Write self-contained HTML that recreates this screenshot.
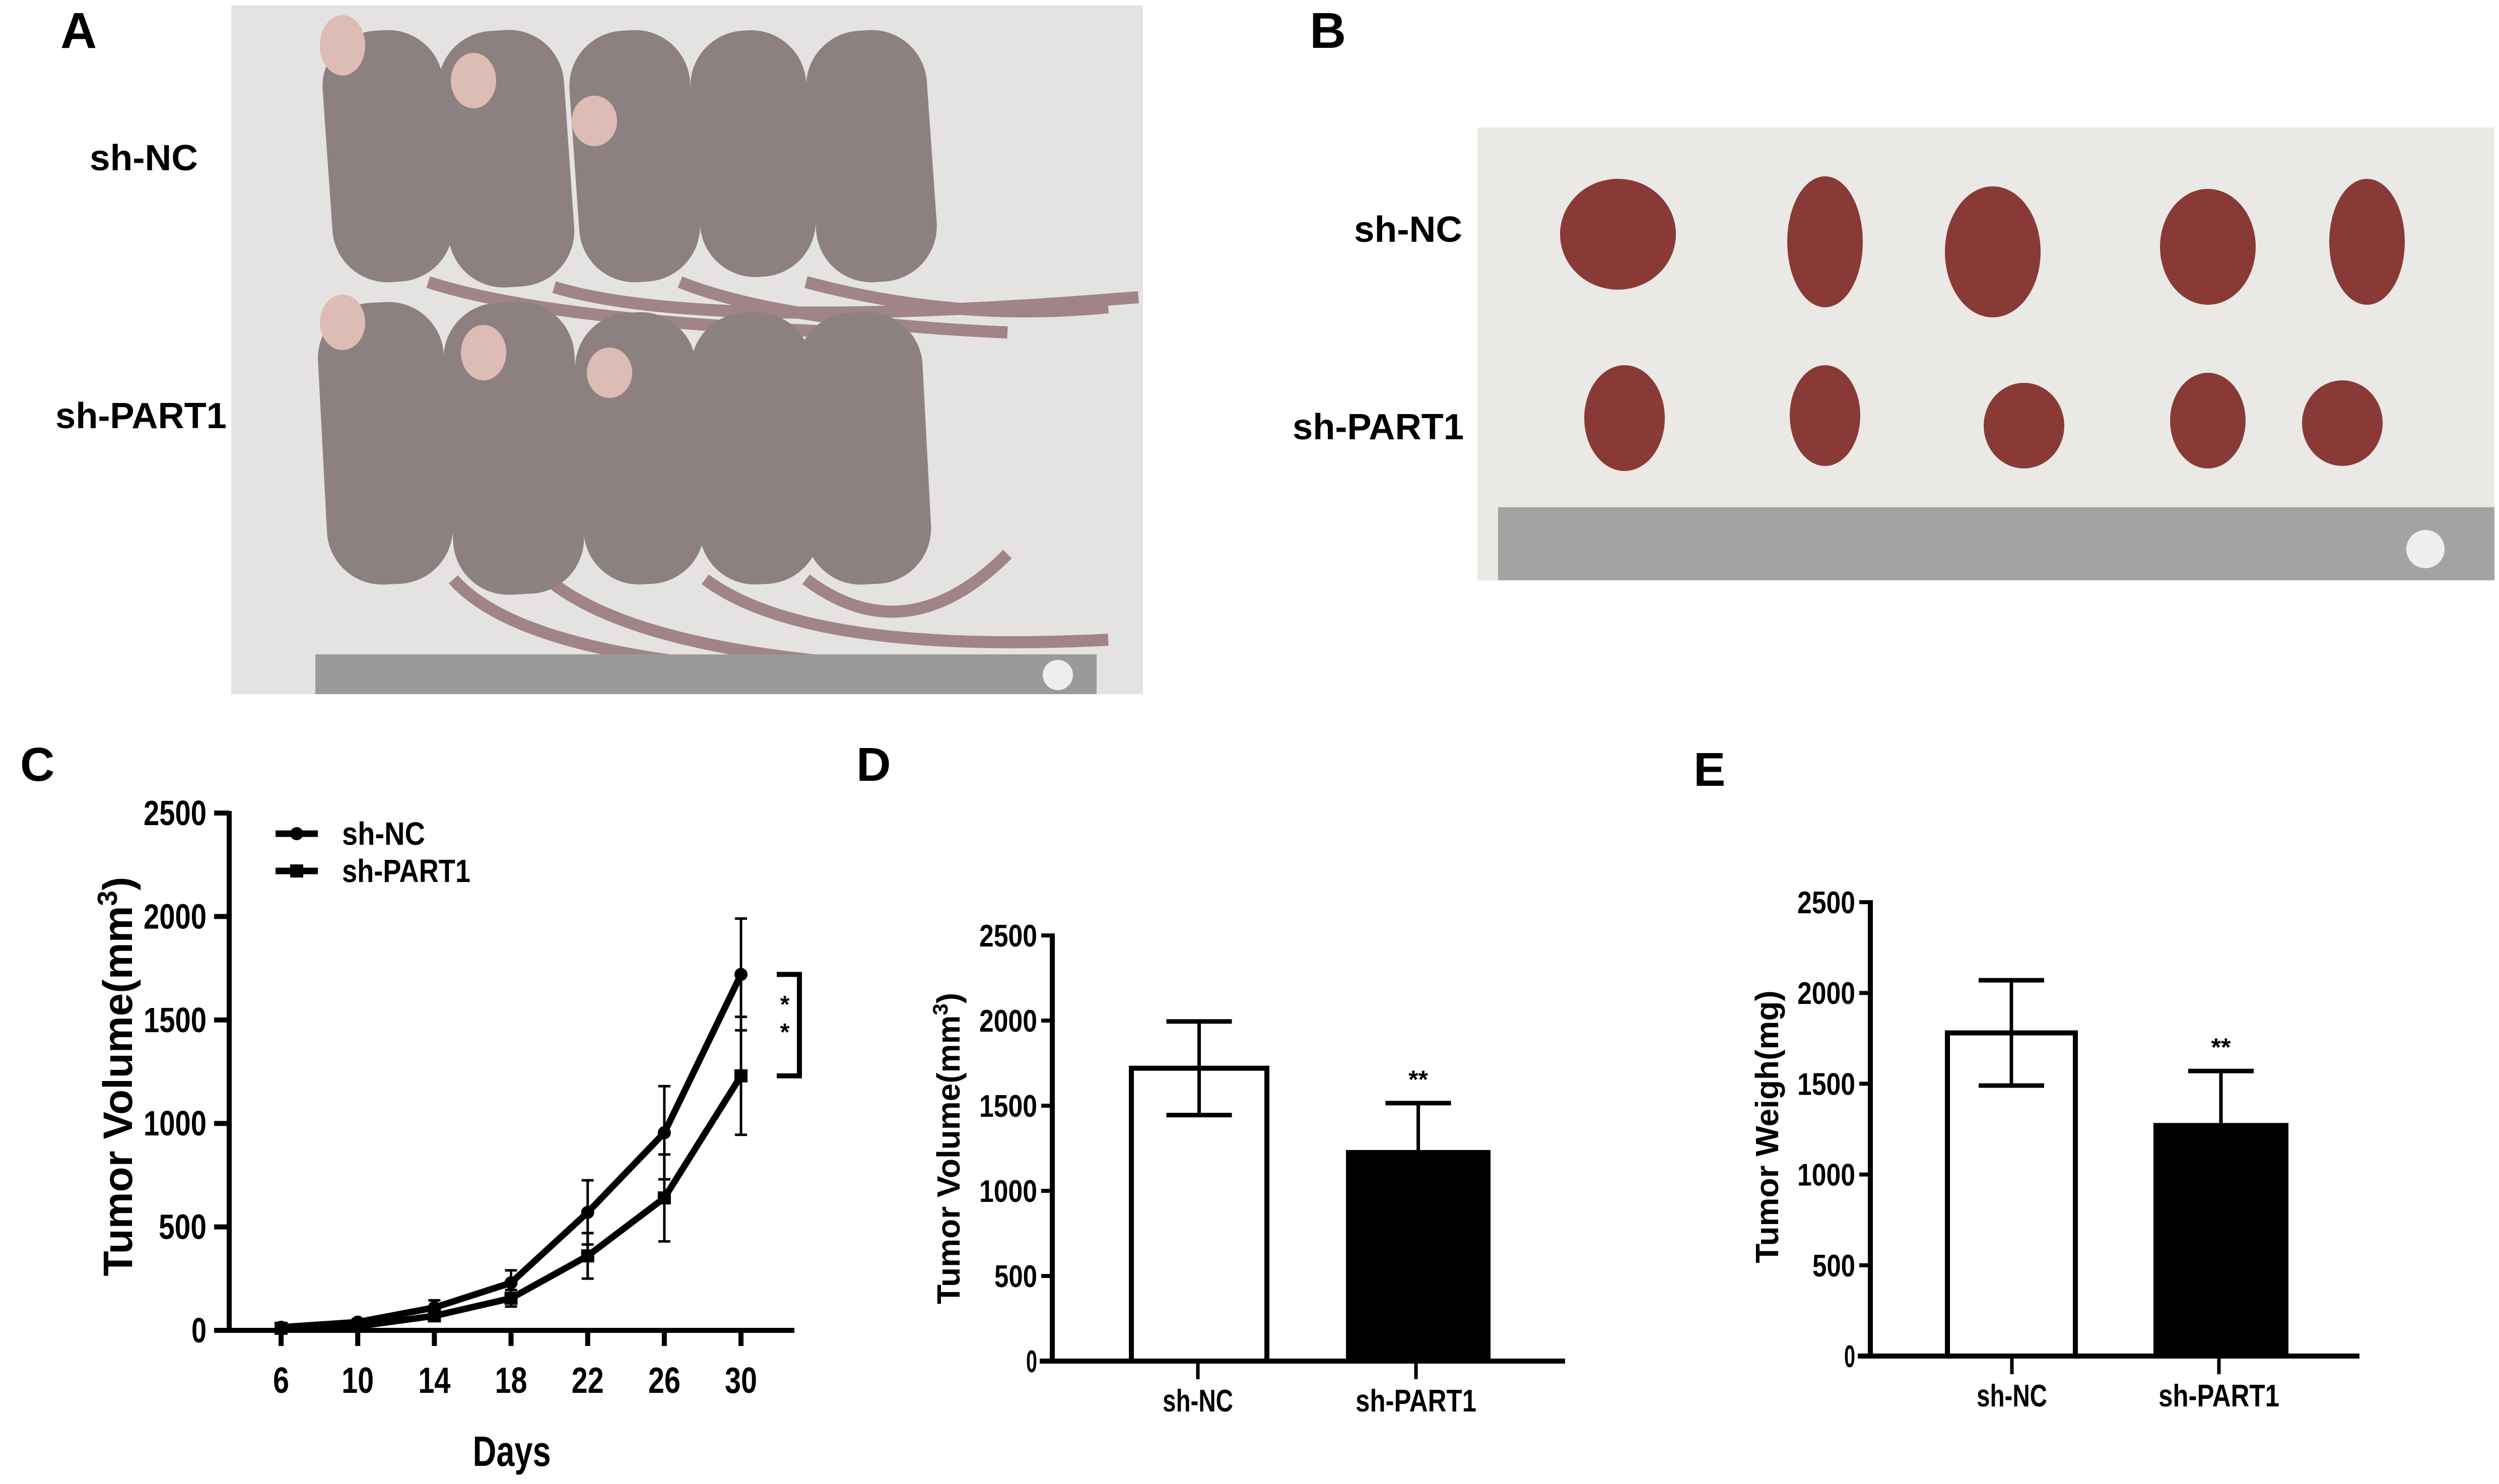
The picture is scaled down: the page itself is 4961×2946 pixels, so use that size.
<!DOCTYPE html>
<html><head><meta charset="utf-8"><style>
html,body{margin:0;padding:0;background:#fff}
svg{display:block}
text{font-family:"Liberation Sans",sans-serif;font-weight:bold;fill:#000}
</style></head><body>
<svg id="fig" width="4961" height="2946" viewBox="0 0 4961 2946" xmlns="http://www.w3.org/2000/svg">
<rect width="4961" height="2946" fill="#fff"/>
<!-- Panel A photo -->
<g>
<rect x="459" y="11" width="1810" height="1367" fill="#e4e3e1"/>
<g fill="none" stroke="#a08488" stroke-width="24">
<path d="M850 560 Q1100 640 1700 660"/><path d="M1100 570 Q1400 660 2260 590"/>
<path d="M1600 560 Q1900 640 2200 610"/><path d="M1350 560 Q1550 640 2000 660"/>
<path d="M900 1150 Q1050 1320 1700 1340"/><path d="M1100 1160 Q1300 1310 1900 1330"/>
<path d="M1400 1150 Q1600 1300 2200 1270"/><path d="M1600 1150 Q1800 1300 2000 1100"/>
</g>
<g fill="#8d8080">
<rect x="650" y="60" width="240" height="500" rx="110" transform="rotate(-4 770 310)"/>
<rect x="880" y="60" width="250" height="510" rx="110" transform="rotate(-4 1005 315)"/>
<rect x="1140" y="60" width="240" height="500" rx="110" transform="rotate(-4 1260 310)"/>
<rect x="1380" y="60" width="230" height="490" rx="110" transform="rotate(-4 1495 305)"/>
<rect x="1610" y="60" width="240" height="500" rx="110" transform="rotate(-4 1730 310)"/>
<rect x="640" y="600" width="250" height="560" rx="110" transform="rotate(-3 765 880)"/>
<rect x="890" y="600" width="260" height="580" rx="110" transform="rotate(-3 1020 890)"/>
<rect x="1150" y="620" width="240" height="540" rx="110" transform="rotate(-3 1270 890)"/>
<rect x="1380" y="620" width="240" height="540" rx="110" transform="rotate(-3 1500 890)"/>
<rect x="1590" y="620" width="250" height="540" rx="110" transform="rotate(-3 1715 890)"/>
</g>
<g fill="#dcbcb4">
<ellipse cx="680" cy="90" rx="45" ry="60"/><ellipse cx="940" cy="160" rx="45" ry="55"/>
<ellipse cx="1180" cy="240" rx="45" ry="50"/><ellipse cx="680" cy="640" rx="45" ry="55"/>
<ellipse cx="960" cy="700" rx="45" ry="55"/><ellipse cx="1210" cy="740" rx="45" ry="50"/>
</g>
<rect x="626" y="1299" width="1551" height="79" fill="#9a9a98"/>
<circle cx="2100" cy="1340" r="30" fill="#eeeeec"/>
</g>
<!-- Panel B photo -->
<g>
<rect x="2933" y="253" width="2019" height="899" fill="#eae9e6"/>
<g fill="#8a3a36">
<ellipse cx="3212" cy="465" rx="115" ry="110"/>
<ellipse cx="3623" cy="480" rx="75" ry="130"/>
<ellipse cx="3956" cy="500" rx="95" ry="130"/>
<ellipse cx="4383" cy="490" rx="95" ry="115"/>
<ellipse cx="4699" cy="480" rx="75" ry="125"/>
<ellipse cx="3225" cy="830" rx="80" ry="105"/>
<ellipse cx="3623" cy="825" rx="70" ry="100"/>
<ellipse cx="4018" cy="845" rx="80" ry="85"/>
<ellipse cx="4383" cy="835" rx="75" ry="95"/>
<ellipse cx="4650" cy="840" rx="80" ry="85"/>
</g>
<rect x="2974" y="1007" width="1978" height="145" fill="#a3a3a1"/>
<circle cx="4815" cy="1090" r="38" fill="#eeeeec"/>
</g>
<!-- panel letters and photo labels -->
<text x="120" y="95" font-size="100">A</text>
<text x="2600" y="95" font-size="100">B</text>
<text x="178" y="338" font-size="72" textLength="215" lengthAdjust="spacingAndGlyphs">sh-NC</text>
<text x="110" y="850" font-size="72" textLength="340" lengthAdjust="spacingAndGlyphs">sh-PART1</text>
<text x="2688" y="480" font-size="72" textLength="215" lengthAdjust="spacingAndGlyphs">sh-NC</text>
<text x="2566" y="872" font-size="72" textLength="340" lengthAdjust="spacingAndGlyphs">sh-PART1</text>
<text x="40" y="1550" font-size="95">C</text>
<text x="1700" y="1550" font-size="95">D</text>
<text x="3362" y="1560" font-size="95">E</text>
<g id="chartC"></g>
<g id="chartD"></g>
<g id="chartE"></g>
</svg>
<script>
const days = [6, 10, 14, 18, 22, 26, 30];
const ncMean = [15, 40, 110, 230, 570, 955, 1720];
const ncErr = [10, 15, 35, 60, 155, 225, 270];
const partMean = [10, 20, 70, 155, 360, 640, 1230];
const partErr = [8, 10, 25, 40, 110, 210, 285];
const cTicks = [0, 500, 1000, 1500, 2000, 2500];
const groups = ["sh-NC", "sh-PART1"];
const volMean = [1720, 1225];
const volErr = [275, 290];
const wtMean = [1780, 1270];
const wtErr = [290, 300];
const barTicks = [0, 500, 1000, 1500, 2000, 2500];

const NS = "http://www.w3.org/2000/svg";
function mk(parent, tag, attrs, txt) {
  const e = document.createElementNS(NS, tag);
  for (const k in attrs) e.setAttribute(k, attrs[k]);
  if (txt !== undefined) e.textContent = txt;
  parent.appendChild(e);
  return e;
}

// ---- Chart C ----
(function () {
  const g = document.getElementById('chartC');
  const x = d => 558 + (d - 6) * (1471 - 558) / 24;
  const y = v => 2641 - v * (2641 - 1614) / 2500;
  let e = mk(g, 'line', {x1: 455, y1: 1610, x2: 455, y2: 2646, stroke: '#000', 'stroke-width': 10});
  
  
  e = mk(g, 'line', {x1: 425, y1: 2641, x2: 1577, y2: 2641, stroke: '#000', 'stroke-width': 10});
  
  
  cTicks.forEach(t => {
    mk(g, 'line', {x1: 425, y1: y(t), x2: 455, y2: y(t), stroke: '#000', 'stroke-width': 10});
    const l = mk(g, 'text', {x: 410, y: y(t) + 24, 'font-size': 70, 'text-anchor': 'end', textLength: t === 0 ? 30 : (t < 1000 ? 95 : 125), lengthAdjust: 'spacingAndGlyphs'}, String(t));
    
    
  });
  days.forEach(d => {
    mk(g, 'line', {x1: x(d), y1: 2641, x2: x(d), y2: 2672, stroke: '#000', 'stroke-width': 10});
    const l = mk(g, 'text', {x: x(d), y: 2765, 'font-size': 72, 'text-anchor': 'middle', textLength: d < 10 ? 32 : 64, lengthAdjust: 'spacingAndGlyphs'}, String(d));
    
    
  });
  function series(mean, err, name, shape) {
    const sg = mk(g, 'g', {});
    
    
    days.forEach((d, i) => {
      mk(sg, 'line', {x1: x(d), y1: y(mean[i] - err[i]), x2: x(d), y2: y(mean[i] + err[i]), stroke: '#000', 'stroke-width': 5});
      mk(sg, 'line', {x1: x(d) - 12, y1: y(mean[i] + err[i]), x2: x(d) + 12, y2: y(mean[i] + err[i]), stroke: '#000', 'stroke-width': 5});
      mk(sg, 'line', {x1: x(d) - 12, y1: y(mean[i] - err[i]), x2: x(d) + 12, y2: y(mean[i] - err[i]), stroke: '#000', 'stroke-width': 5});
    });
    mk(sg, 'polyline', {points: days.map((d, i) => x(d) + ',' + y(mean[i])).join(' '), fill: 'none', stroke: '#000', 'stroke-width': 13, 'stroke-linejoin': 'round'});
    days.forEach((d, i) => {
      let m;
      if (shape === 'c') m = mk(sg, 'circle', {cx: x(d), cy: y(mean[i]), r: 13});
      else m = mk(sg, 'rect', {x: x(d) - 13, y: y(mean[i]) - 13, width: 26, height: 26});
      
      
    });
  }
  series(ncMean, ncErr, 'series-sh-nc', 'c');
  series(partMean, partErr, 'series-sh-part1', 's');
  const bx = 1587;
  const b = mk(g, 'path', {d: `M1542 ${y(ncMean[6])} H${bx} V${y(partMean[6])} H1542`, fill: 'none', stroke: '#000', 'stroke-width': 10});
  
  
  const st = mk(g, 'text', {x: 1558, y: 2010, 'font-size': 48, 'text-anchor': 'middle', 'font-weight': 'normal'}, '*');
  
  
  const st2 = mk(g, 'text', {x: 1558, y: 2065, 'font-size': 48, 'text-anchor': 'middle', 'font-weight': 'normal'}, '*');
  
  
  const lg = mk(g, 'g', {});
  
  
  mk(lg, 'line', {x1: 547, y1: 1655, x2: 631, y2: 1655, stroke: '#000', 'stroke-width': 13});
  mk(lg, 'circle', {cx: 589, cy: 1655, r: 13});
  mk(lg, 'line', {x1: 547, y1: 1729, x2: 631, y2: 1729, stroke: '#000', 'stroke-width': 13});
  mk(lg, 'rect', {x: 576, y: 1716, width: 26, height: 26});
  let t = mk(lg, 'text', {x: 679, y: 1677, 'font-size': 64, textLength: 165, lengthAdjust: 'spacingAndGlyphs'}, 'sh-NC');
  
  
  t = mk(lg, 'text', {x: 679, y: 1751, 'font-size': 64, textLength: 255, lengthAdjust: 'spacingAndGlyphs'}, 'sh-PART1');
  
  
  t = mk(g, 'text', {x: 0, y: 0, 'font-size': 82, 'text-anchor': 'middle', transform: 'translate(262 2137) rotate(-90)'});
  t.innerHTML = 'Tumor  Volume(mm<tspan dy="-30" font-size="55">3</tspan><tspan dy="30">)</tspan>';
  
  
  t = mk(g, 'text', {x: 1016, y: 2910, 'font-size': 84, 'text-anchor': 'middle', textLength: 155, lengthAdjust: 'spacingAndGlyphs'}, 'Days');
  
  
})();

// ---- Bar charts ----
function barChart(id, ax, top, bottom, xEnd, barX, tickX, means, errs, title, titleX, titleY, superscript) {
  const g = document.getElementById(id);
  const y = v => bottom - v * (bottom - top) / 2500;
  let e = mk(g, 'line', {x1: ax, y1: top - 4, x2: ax, y2: bottom, stroke: '#000', 'stroke-width': 10});
  
  
  e = mk(g, 'line', {x1: ax - 25, y1: bottom, x2: xEnd, y2: bottom, stroke: '#000', 'stroke-width': 10});
  
  
  barTicks.forEach(t => {
    mk(g, 'line', {x1: ax - 22, y1: y(t), x2: ax, y2: y(t), stroke: '#000', 'stroke-width': 8});
    const l = mk(g, 'text', {x: ax - 30, y: y(t) + 22, 'font-size': 62, 'text-anchor': 'end', textLength: t === 0 ? 22 : (t < 1000 ? 85 : 115), lengthAdjust: 'spacingAndGlyphs'}, String(t));
    
    
  });
  groups.forEach((name, i) => {
    const x0 = barX[i][0], x1 = barX[i][1], cx = (x0 + x1) / 2;
    const r = mk(g, 'rect', {x: x0 + 5, y: y(means[i]), width: x1 - x0 - 10, height: bottom - y(means[i]), fill: i === 0 ? '#fff' : '#000', stroke: '#000', 'stroke-width': 10});
    
    
    const lo = i === 0 ? means[i] - errs[i] : means[i];
    mk(g, 'line', {x1: cx, y1: y(means[i] + errs[i]), x2: cx, y2: y(lo), stroke: '#000', 'stroke-width': 7});
    mk(g, 'line', {x1: cx - 65, y1: y(means[i] + errs[i]), x2: cx + 65, y2: y(means[i] + errs[i]), stroke: '#000', 'stroke-width': 9});
    if (i === 0) mk(g, 'line', {x1: cx - 65, y1: y(means[i] - errs[i]), x2: cx + 65, y2: y(means[i] - errs[i]), stroke: '#000', 'stroke-width': 9});
    mk(g, 'line', {x1: tickX[i], y1: bottom, x2: tickX[i], y2: bottom + 36, stroke: '#000', 'stroke-width': 7});
    const l = mk(g, 'text', {x: tickX[i], y: bottom + 100, 'font-size': 62, 'text-anchor': 'middle', textLength: i === 0 ? 140 : 240, lengthAdjust: 'spacingAndGlyphs'}, name);
    
    
  });
  const s = mk(g, 'text', {x: (barX[1][0] + barX[1][1]) / 2, y: y(means[1] + errs[1]) - 30, 'font-size': 50, 'text-anchor': 'middle'}, '**');
  
  
  const t = mk(g, 'text', {x: 0, y: 0, 'font-size': 64, 'text-anchor': 'middle', transform: `translate(${titleX} ${titleY}) rotate(-90)`});
  t.innerHTML = superscript ? title + '<tspan dy="-24" font-size="42">3</tspan><tspan dy="24">)</tspan>' : title;
  
  
}
barChart('chartD', 2089, 1857, 2702, 3107, [[2241, 2520], [2672, 2959]], [2378, 2811], volMean, volErr, 'Tumor Volume(mm', 1905, 2280, true);
barChart('chartE', 3713, 1791, 2692, 4684, [[3861, 4125], [4275, 4543]], [3994, 4405], wtMean, wtErr, 'Tumor Weigh(mg)', 3530, 2237, false);
</script>
</body></html>
